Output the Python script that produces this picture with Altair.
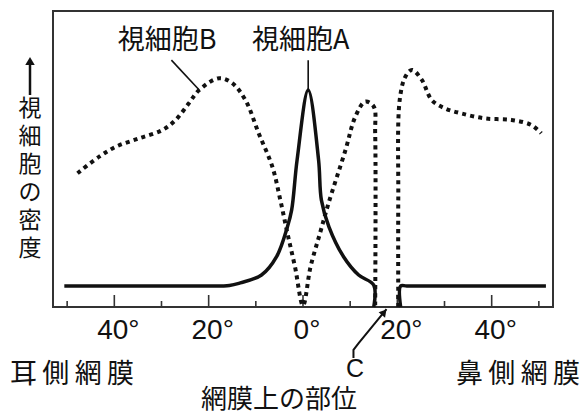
import altair as alt
import pandas as pd

# ---------------- data (degrees on retina, relative density 0-100) ----------------
# 視細胞A (solid) – split at the blind spot C
coneL_deg = [-50.6, -40.0, -30.0, -20.0, -15.6, -13.6, -8.8, -5.6, -3.3, -2.4, -1.25, 1.1,
             3.3, 3.9, 5.5, 8.6, 11.8, 15.0, 15.0]
coneL_val = [7.1, 7.1, 7.1, 7.1, 7.3, 8.0, 10.8, 17.0, 27.1, 32.8, 49.7, 73.3,
             49.7, 36.1, 27.1, 17.0, 10.8, 7.4, 0.0]
coneR_deg = [20.7, 20.7, 22.0, 30.0, 40.0, 51.5]
coneR_val = [0.0, 7.1, 7.1, 7.1, 7.1, 7.1]

# 視細胞B (dotted)
rodL_deg = [-47.8, -43.2, -39.6, -34.7, -29.8, -27.0, -24.2, -22.0, -17.8, -15.0, -12.2, -9.4, -6.5,
            -4.8, -3.3, -1.7, 0.0, 1.6, 3.6, 5.4, 9.0, 11.1, 13.2, 15.0, 15.3, 15.3]
rodL_val = [45.2, 50.8, 54.2, 57.0, 59.8, 63.2, 68.8, 73.3, 77.3, 75.6, 69.9, 58.7, 47.4,
            36.1, 24.9, 13.6, 0.5, 13.6, 24.9, 35.0, 53.0, 64.3, 69.4, 67.7, 58.7, 0.0]
rodR_deg = [20.2, 20.2, 20.5, 21.7, 23.1, 25.2, 27.3, 30.1, 33.6, 38.6, 44.2, 48.4, 50.5]
rodR_val = [0.0, 36.1, 69.9, 77.8, 80.1, 76.7, 69.9, 67.1, 65.4, 63.7, 63.2, 61.5, 58.7]

# axis ticks / labels
major_ticks = [-40, -20, 0, 20, 40]
minor_ticks = [-50, -30, -10, 10, 30, 50]

# annotations (data coordinates)
label_text = ["視細胞B", "視細胞A"]
label_deg = [-28.8, -0.5]
label_val = [90.0, 90.0]
leaderB_deg = [-27.9, -22.0]
leaderB_val = [83.4, 73.3]
leaderA_deg = [1.1, 1.1]
leaderA_val = [83.4, 73.3]
arrowC_deg = [10.7, 10.7, 11.8, 17.7]
arrowC_val = [-17.2, -14.5, -12.2, -0.7]
arrowC_head_deg = [17.2]
arrowC_head_val = [-1.75]
ytitle_chars = ["視", "細", "胞", "の", "密", "度"]

W, H = 500, 296
xscale = alt.Scale(domain=[-53, 53], nice=False, zero=False)
yscale = alt.Scale(domain=[0, 100], nice=False, zero=False)
INK = "#111111"
FRAME = "#333333"
JP = "Noto Sans CJK JP"


def frame(xs, ys, seg):
    return pd.DataFrame({"deg": xs, "val": ys, "seg": seg, "idx": list(range(len(xs)))})


one = alt.Data(values=[{}])
X = lambda f: alt.X(f, scale=xscale, axis=None)
Y = lambda f: alt.Y(f, scale=yscale, axis=None)

# plot frame
box = alt.Chart(one).mark_rect(fill=None, stroke=FRAME, strokeWidth=2).encode(
    x=alt.value(0), x2=alt.value(W), y=alt.value(0), y2=alt.value(H))

# ticks (inward) + tick labels
ticks_major = alt.Chart(pd.DataFrame({"t": major_ticks})).mark_rule(color=FRAME, strokeWidth=1.6).encode(
    x=X("t:Q"), y=alt.value(H), y2=alt.value(H - 12))
ticks_minor = alt.Chart(pd.DataFrame({"t": minor_ticks})).mark_rule(color=FRAME, strokeWidth=1.6).encode(
    x=X("t:Q"), y=alt.value(H), y2=alt.value(H - 6))
tick_labels = alt.Chart(pd.DataFrame({"t": major_ticks})).transform_calculate(
    lab="abs(datum.t) + '°'").mark_text(
    font="Liberation Sans", fontSize=28, color=INK, align="center", baseline="middle", dx=4).encode(
    x=X("t:Q"), y=alt.value(H + 24), text="lab:N")

cone_df = pd.concat([frame(coneL_deg, coneL_val, "L"), frame(coneR_deg, coneR_val, "R")])
rod_df = pd.concat([frame(rodL_deg, rodL_val, "L"), frame(rodR_deg, rodR_val, "R")])


def curve(df, **mk):
    return alt.Chart(df).mark_line(interpolate="catmull-rom", color=INK, **mk).encode(
        x=X("deg:Q"), y=Y("val:Q"), detail="seg:N", order="idx:Q")


cone = curve(cone_df, strokeWidth=3.5, strokeJoin="round")
rod = curve(rod_df, strokeWidth=4, strokeDash=[4, 4.2], strokeCap="butt")

lead_df = pd.concat([frame(leaderB_deg, leaderB_val, "B"), frame(leaderA_deg, leaderA_val, "A")])
leaders = alt.Chart(lead_df).mark_line(color=INK, strokeWidth=1.6).encode(
    x=X("deg:Q"), y=Y("val:Q"), detail="seg:N", order="idx:Q")

arrow_line = alt.Chart(frame(arrowC_deg, arrowC_val, "C")).mark_line(color=INK, strokeWidth=2).encode(
    x=X("deg:Q"), y=Y("val:Q"), order="idx:Q")
arrow_head = alt.Chart(pd.DataFrame({"deg": arrowC_head_deg, "val": arrowC_head_val})).mark_point(
    shape="triangle-up", filled=True, color=INK, opacity=1, size=70, angle=39.5).encode(
    x=X("deg:Q"), y=Y("val:Q"))

labels = alt.Chart(pd.DataFrame({"deg": label_deg, "val": label_val, "t": label_text})).mark_text(
    font=JP, fontSize=27, color=INK, align="center", baseline="middle").encode(
    x=X("deg:Q"), y=Y("val:Q"), text="t:N")


def free_text(txt, x, y, size, font=JP, **kw):
    return alt.Chart(one).mark_text(font=font, fontSize=size, color=INK, align="center",
                                    baseline="middle", **kw).encode(
        x=alt.value(x), y=alt.value(y), text=alt.value(txt))


t_left = free_text("耳\u2009側\u2009網\u2009膜", 19, 364, 27)
t_right = free_text("鼻\u2009側\u2009網\u2009膜", 465, 364, 27)
t_c = free_text("C", 302, 358, 25, font="Liberation Sans")
t_bottom = free_text("網膜上の部位", 226, 389, 26)
t_ytitle = alt.Chart(one).mark_text(font="Liberation Sans, Noto Sans CJK JP", fontSize=23, color=INK,
                                    align="center", baseline="top", lineHeight=28).encode(
    x=alt.value(-23), y=alt.value(87), text=alt.value(ytitle_chars))
y_shaft = alt.Chart(one).mark_rule(color=INK, strokeWidth=2.5).encode(
    x=alt.value(-23), y=alt.value(50), y2=alt.value(84))
y_head = alt.Chart(one).mark_point(shape="triangle-up", filled=True, color=INK, opacity=1, size=90).encode(
    x=alt.value(-23), y=alt.value(50))

chart = alt.layer(
    box, ticks_major, ticks_minor, tick_labels, cone, rod, leaders, arrow_line, arrow_head, labels,
    t_left, t_right, t_c, t_bottom, t_ytitle, y_shaft, y_head
).properties(
    width=W, height=H,
    background="white",
    autosize=alt.AutoSizeParams(type="none"),
    padding={"left": 45, "top": 3, "right": 27, "bottom": 107},
).configure_view(stroke=None)

chart.save("out.html", embed_options={"renderer": "svg", "actions": False})
